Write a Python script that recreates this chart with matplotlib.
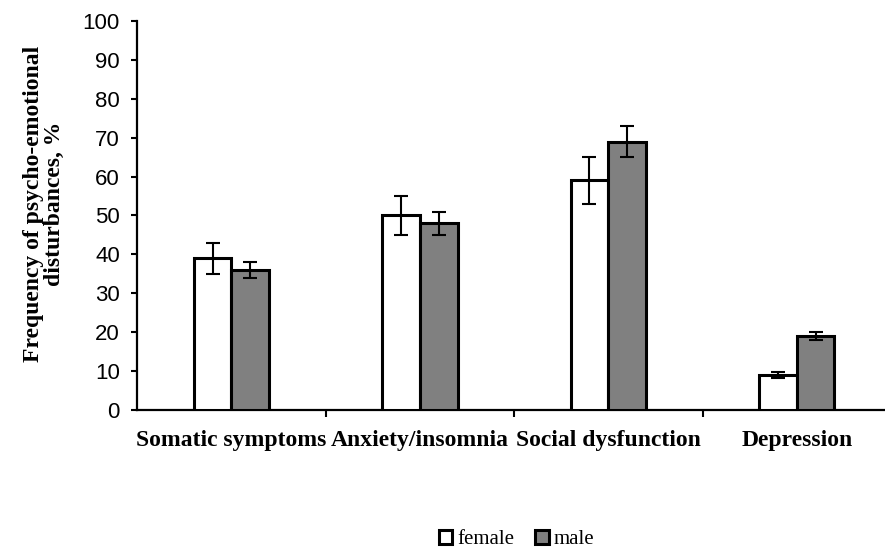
import matplotlib.pyplot as plt
import numpy as np

# data
categories = ['Somatic symptoms', 'Anxiety/insomnia', 'Social dysfunction', 'Depression']
female = [39, 50, 59, 9]
male = [36, 48, 69, 19]
female_err = [4, 5, 6, 0.8]
male_err = [2, 3, 4, 1.1]

fig = plt.figure(figsize=(8.85, 5.49), dpi=100)
ax = fig.add_axes([0.155, 0.253, 0.845, 0.709])

x = np.arange(len(categories))
w = 0.2
ekw = dict(ecolor='black', elinewidth=1.5, capsize=5, capthick=1.5)
ax.bar(x - w/2, female, w, color='white', edgecolor='black', linewidth=2.2,
       yerr=female_err, error_kw=ekw, label='female', zorder=3)
ax.bar(x + w/2, male, w, color='#808080', edgecolor='black', linewidth=2.2,
       yerr=male_err, error_kw=ekw, label='male', zorder=3)

ax.set_ylim(0, 100)
ax.set_xlim(-0.5, 3.468)
ax.set_yticks(range(0, 101, 10))
ax.set_yticklabels([str(v) for v in range(0, 101, 10)], fontfamily='Liberation Sans', fontsize=16)
ax.set_xticks(x)
ax.set_xticklabels(categories, fontfamily='Liberation Serif', fontweight='bold', fontsize=17)
ax.tick_params(axis='x', which='major', length=0, pad=14)
ax.set_xticks([0.5, 1.5, 2.5], minor=True)
ax.tick_params(axis='x', which='minor', length=5, width=1.5, direction='out')
ax.tick_params(axis='y', length=4.5, width=1.5, direction='out', pad=8)

for s in ['top', 'right']:
    ax.spines[s].set_visible(False)
for s in ['left', 'bottom']:
    ax.spines[s].set_linewidth(1.6)

fig.text(44/885, 1 - 204/549, 'Frequency of psycho-emotional\ndisturbances, %',
         rotation=90, ha='center', va='center', multialignment='center',
         fontfamily='Liberation Serif', fontweight='bold', fontsize=17, linespacing=1.0)

leg = fig.legend(loc='center', bbox_to_anchor=(0.584, 0.017), ncol=2, frameon=False,
                 prop={'family': 'Liberation Serif', 'size': 15},
                 handlelength=0.63, handleheight=0.63, handletextpad=0.25, columnspacing=1.0)

fig.savefig('out.png', dpi=100)
